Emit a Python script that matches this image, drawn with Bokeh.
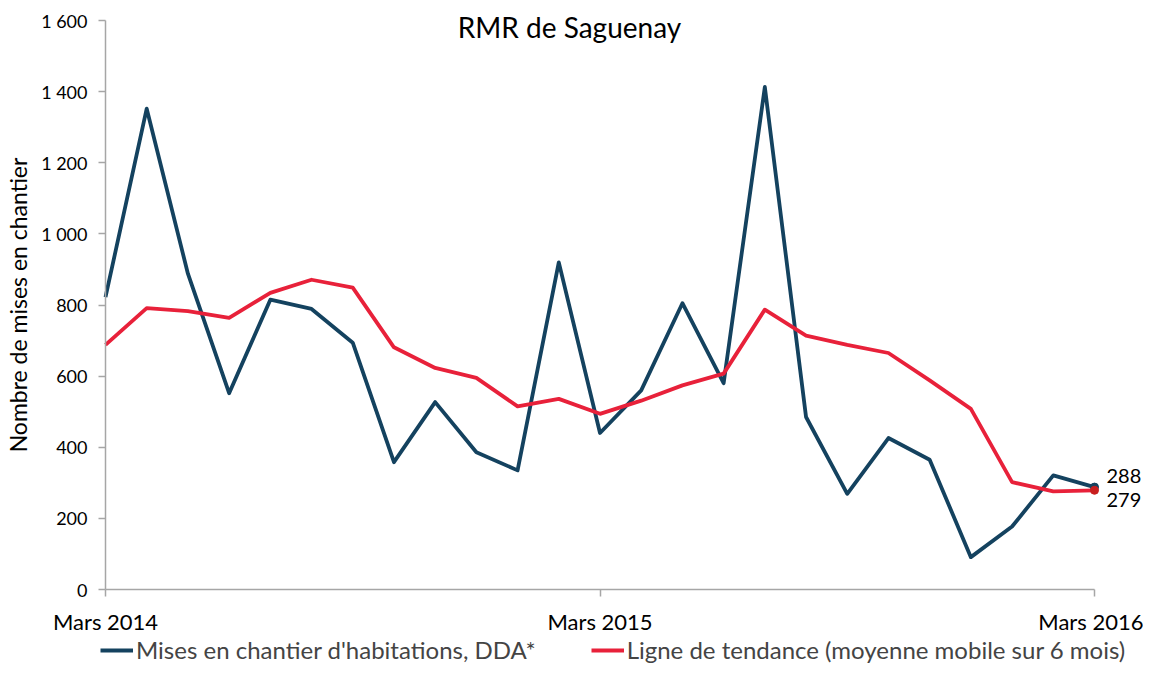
from bokeh.plotting import figure
from bokeh.models import Range1d, FixedTicker, Legend, LegendItem, Label
from bokeh.core.properties import value
from bokeh.embed import file_html
from bokeh.resources import INLINE

# ---- data ----
title_text = "RMR de Saguenay"
y_label = "Nombre de mises en chantier"
months = list(range(25))  # Mars 2014 .. Mars 2016
mises = [822, 1352, 888, 552, 815, 789, 694, 358, 527, 386, 335, 920, 440,
         560, 805, 580, 1413, 485, 269, 426, 365, 91, 177, 321, 288]
tendance = [688, 791, 783, 764, 834, 871, 849, 681, 623, 595, 515, 536, 494,
            531, 574, 607, 787, 714, 688, 665, 588, 508, 302, 276, 279]
x_ticks = [0, 12, 24]
x_tick_labels = ["Mars 2014", "Mars 2015", "Mars 2016"]
y_ticks = [0, 200, 400, 600, 800, 1000, 1200, 1400, 1600]
y_tick_labels = ["0", "200", "400", "600", "800", "1 000", "1 200", "1 400", "1 600"]
series_names = ["Mises en chantier d'habitations, DDA*",
                "Ligne de tendance (moyenne mobile sur 6 mois)"]

FONT = "Lato"
BLUE = "#14425F"
RED = "#E8213A"
AXIS = "#A6A6A6"

W, H = 1143, 664
LEFT, AXIS_END = 105, 1094      # pixel span of the x axis
TOP, ZERO = 20, 589             # pixel of 1600 and of 0
span = AXIS_END - LEFT
ppu = (ZERO - TOP) / 1600
x_min = -LEFT * 24 / span                         # room for y-axis texts
x_max = 24 + (W - AXIS_END) * 24 / span          # room for end labels
y_min = -(H - ZERO) / ppu                        # room for axis labels + legend
y_max = 1600 + TOP / ppu                         # room for the title

p = figure(width=W, height=H, output_backend="svg", toolbar_location=None,
           x_range=Range1d(x_min, x_max), y_range=Range1d(y_min, y_max),
           min_border_left=0, min_border_right=0, min_border_top=0,
           min_border_bottom=0)
p.outline_line_color = None
p.xgrid.grid_line_color = None
p.ygrid.grid_line_color = None
p.background_fill_color = "white"

# axes
p.xaxis.fixed_location = 0
p.yaxis.fixed_location = 0
p.xaxis.ticker = FixedTicker(ticks=x_ticks)
p.xaxis.major_label_overrides = dict(zip(x_ticks, x_tick_labels))
p.xaxis.bounds = (0, 24)
p.yaxis.ticker = FixedTicker(ticks=y_ticks)
p.yaxis.major_label_overrides = dict(zip(y_ticks, y_tick_labels))
p.yaxis.bounds = (0, 1600)
for ax in (p.xaxis, p.yaxis):
    ax.axis_line_color = AXIS
    ax.axis_line_width = 1.5
    ax.major_tick_line_color = AXIS
    ax.major_tick_line_width = 1.5
    ax.major_tick_in = 0
    ax.major_tick_out = 7
    ax.minor_tick_line_color = None
    ax.major_label_text_font = FONT
    ax.major_label_text_color = "black"
p.xaxis.major_label_text_font_size = "22px"
p.xaxis.major_label_standoff = 11
p.yaxis.major_label_text_font_size = "18px"
p.yaxis.major_label_standoff = 11
p.yaxis.axis_label = y_label
p.yaxis.axis_label_text_font = FONT
p.yaxis.axis_label_text_font_size = "23px"
p.yaxis.axis_label_text_font_style = "normal"
p.yaxis.axis_label_text_color = "black"
p.yaxis.axis_label_standoff = 6

# lines
r1 = p.line(months, mises, line_color=BLUE, line_width=3.8, line_join="round")
r2 = p.line(months, tendance, line_color=RED, line_width=3.8, line_join="round")
p.scatter([months[-1]], [mises[-1]], size=8, color=BLUE)
p.scatter([months[-1]], [tendance[-1]], size=8, color="#C81E1E")

# end labels
p.text(x=[months[-1]], y=[mises[-1]], text=[str(mises[-1])],
       x_offset=12, y_offset=-11, text_baseline="middle", text_align="left",
       text_font=value(FONT), text_font_size="20px", text_color="black")
p.text(x=[months[-1]], y=[tendance[-1]], text=[str(tendance[-1])],
       x_offset=12, y_offset=10, text_baseline="middle", text_align="left",
       text_font=value(FONT), text_font_size="20px", text_color="black")

# title
p.add_layout(Label(x=11.26, y=1600, y_offset=-6, text=title_text,
                   text_align="center", text_baseline="alphabetic",
                   text_font=FONT, text_font_size="28px", text_color="black"))

# legend
legend = Legend(items=[LegendItem(label=series_names[0], renderers=[r1]),
                       LegendItem(label=series_names[1], renderers=[r2])],
                orientation="horizontal", location=(100, 0),
                border_line_color=None, background_fill_alpha=0,
                label_text_font=FONT, label_text_font_size="24px",
                glyph_width=33, label_standoff=3, spacing=55,
                padding=0, margin=0, label_height=22, glyph_height=22)
p.add_layout(legend)

open("out.html", "w").write(file_html(p, INLINE))
